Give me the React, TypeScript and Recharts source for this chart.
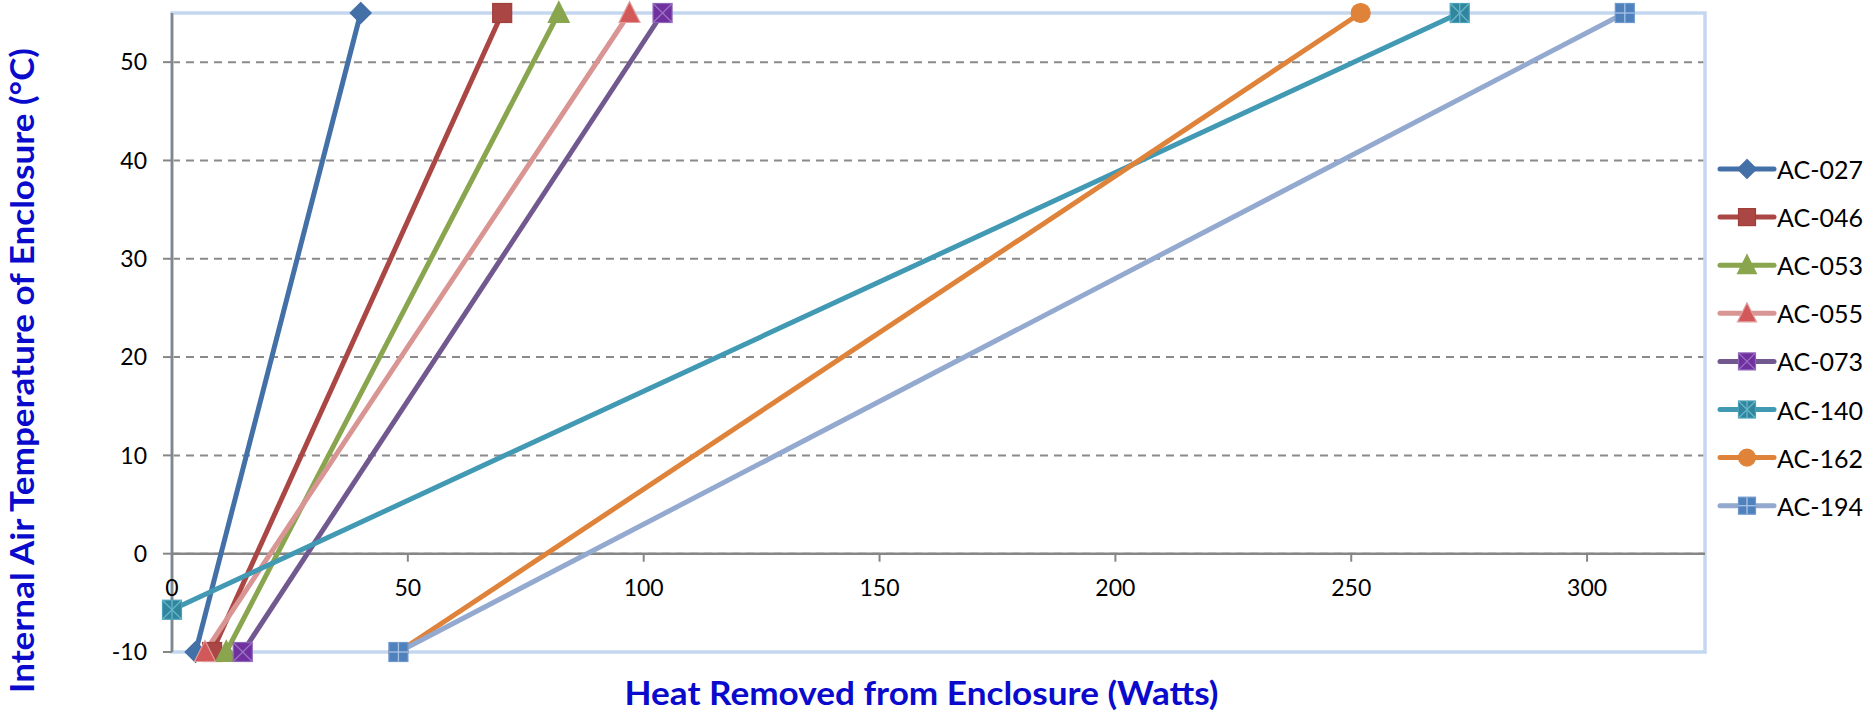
import React from "react";
import {
  LineChart,
  Line,
  XAxis,
  YAxis,
  CartesianGrid,
  ReferenceLine,
  ReferenceArea,
  ReferenceDot,
  Label,
} from "recharts";

// axis ticks
const X_TICKS = [0, 50, 100, 150, 200, 250, 300];
const Y_TICKS = [-10, 0, 10, 20, 30, 40, 50];
const X_DOMAIN = [0, 325];
const Y_DOMAIN = [-10, 55];

// each unit: heat removed (W) at -10 °C .. 55 °C
const AC027 = [{ x: 5, y: -10 }, { x: 40, y: 55 }];
const AC046 = [{ x: 8.5, y: -10 }, { x: 70, y: 55 }];
const AC053 = [{ x: 11.5, y: -10 }, { x: 82, y: 55 }];
const AC055 = [{ x: 7, y: -10 }, { x: 97, y: 55 }];
const AC073 = [{ x: 15, y: -10 }, { x: 104, y: 55 }];
const AC140 = [{ x: 0, y: -5.7 }, { x: 273, y: 55 }];
const AC162 = [{ x: 48, y: -10 }, { x: 252, y: 55 }];
const AC194 = [{ x: 48, y: -10 }, { x: 308, y: 55 }];

type Kind = "diamond" | "square" | "triangle" | "squareX" | "squareStar" | "circle" | "squarePlus";

interface SeriesDef {
  name: string;
  data: { x: number; y: number }[];
  line: string;
  fill: string;
  edge: string;
  mark: string;
  kind: Kind;
}

const SERIES: SeriesDef[] = [
  { name: "AC-027", data: AC027, line: "#4470A8", fill: "#4470A8", edge: "#4470A8", mark: "", kind: "diamond" },
  { name: "AC-046", data: AC046, line: "#AA4643", fill: "#AA4643", edge: "#A03E3B", mark: "", kind: "square" },
  { name: "AC-053", data: AC053, line: "#89A54E", fill: "#89A54E", edge: "#89A54E", mark: "", kind: "triangle" },
  { name: "AC-055", data: AC055, line: "#D89593", fill: "#D2585A", edge: "#E09E9C", mark: "", kind: "triangle" },
  { name: "AC-073", data: AC073, line: "#71588F", fill: "#7030A0", edge: "#8E66B8", mark: "#9A74C2", kind: "squareX" },
  { name: "AC-140", data: AC140, line: "#4199B3", fill: "#31859C", edge: "#4AA0B8", mark: "#66B6CB", kind: "squareStar" },
  { name: "AC-162", data: AC162, line: "#DF833A", fill: "#DF833A", edge: "#DF833A", mark: "", kind: "circle" },
  { name: "AC-194", data: AC194, line: "#93A9CF", fill: "#4F81BD", edge: "#6E98CC", mark: "#A9C3E6", kind: "squarePlus" },
];

const FONT = "Lato, 'Liberation Sans', sans-serif";
const TITLE_BLUE = "#0A0ACC";
const AXIS_GRAY = "#868686";
const BORDER_BLUE = "#C4D7EF";

function Marker({ kind, cx, cy, s, size }: { kind: Kind; cx: number; cy: number; s: SeriesDef; size: number }) {
  const h = size / 2;
  const common = { fill: s.fill, stroke: s.edge, strokeWidth: 1.2 };
  const box = <rect x={cx - h} y={cy - h} width={size} height={size} {...common} />;
  const lineProps = { stroke: s.mark, strokeWidth: 1.3 };
  switch (kind) {
    case "diamond":
      return <polygon points={`${cx},${cy - h - 1} ${cx + h + 1},${cy} ${cx},${cy + h + 1} ${cx - h - 1},${cy}`} {...common} />;
    case "triangle":
      return <polygon points={`${cx},${cy - h - 2} ${cx + h + 1},${cy + h} ${cx - h - 1},${cy + h}`} {...common} />;
    case "circle":
      return <circle cx={cx} cy={cy} r={h} {...common} />;
    case "squareX":
      return (
        <g>
          {box}
          <line x1={cx - h} y1={cy - h} x2={cx + h} y2={cy + h} {...lineProps} />
          <line x1={cx - h} y1={cy + h} x2={cx + h} y2={cy - h} {...lineProps} />
        </g>
      );
    case "squareStar":
      return (
        <g>
          {box}
          <line x1={cx - h} y1={cy - h} x2={cx + h} y2={cy + h} {...lineProps} />
          <line x1={cx - h} y1={cy + h} x2={cx + h} y2={cy - h} {...lineProps} />
          <line x1={cx} y1={cy - h} x2={cx} y2={cy + h} {...lineProps} />
        </g>
      );
    case "squarePlus":
      return (
        <g>
          {box}
          <line x1={cx} y1={cy - h} x2={cx} y2={cy + h} {...lineProps} />
          <line x1={cx - h} y1={cy} x2={cx + h} y2={cy} {...lineProps} />
        </g>
      );
    default:
      return box;
  }
}

function XTick({ cx, cy, value }: { cx: number; cy: number; value: number }) {
  return (
    <g>
      <line x1={cx} y1={cy} x2={cx} y2={cy + 8} stroke={AXIS_GRAY} strokeWidth={2} />
      <text x={cx} y={cy + 36} textAnchor="middle" dominantBaseline="middle" fontFamily={FONT} fontSize={23} fill="#000">
        {value}
      </text>
    </g>
  );
}

function ChartLegend() {
  return (
    <svg width={170} height={400} style={{ position: "absolute", left: 1704, top: 145 }}>
      {SERIES.map((s, i) => {
        const y = 24 + i * 48.1;
        return (
          <g key={s.name}>
            <line x1={16} x2={70} y1={y} y2={y} stroke={s.line} strokeWidth={5} strokeLinecap="round" />
            <Marker kind={s.kind} cx={43} cy={y} s={s} size={17} />
            <text x={73} y={y} dominantBaseline="central" fontFamily={FONT} fontSize={25} fill="#000">
              {s.name}
            </text>
          </g>
        );
      })}
    </svg>
  );
}

export default function App() {
  return (
    <div style={{ position: "absolute", left: 0, top: 0, width: 1874, height: 718, background: "#fff" }}>
      <LineChart width={1874} height={718} margin={{ top: 13, right: 169, bottom: 36, left: 112 }}>
        <CartesianGrid stroke="#8a8a8a" strokeWidth={2} strokeDasharray="8 6" />
        <ReferenceArea x1={0} x2={325} y1={-10} y2={55} fill="none" stroke={BORDER_BLUE} strokeWidth={3.5} />
        <XAxis
          type="number"
          dataKey="x"
          domain={X_DOMAIN}
          ticks={X_TICKS}
          tick={false}
          tickLine={false}
          axisLine={false}
          height={30}
        >
          <Label
            content={({ viewBox }: any) => (
              <text
                x={viewBox.x + viewBox.width / 2 - 17}
                y={viewBox.y + 45}
                textAnchor="middle"
                dominantBaseline="middle"
                fontFamily={FONT}
                fontWeight="bold"
                fontSize={33}
                fill={TITLE_BLUE}
                textLength={594}
                lengthAdjust="spacingAndGlyphs"
              >
                Heat Removed from Enclosure (Watts)
              </text>
            )}
          />
        </XAxis>
        <YAxis
          type="number"
          domain={Y_DOMAIN}
          ticks={Y_TICKS}
          width={60}
          tickSize={9}
          tickMargin={16}
          tickLine={{ stroke: AXIS_GRAY, strokeWidth: 2 }}
          axisLine={{ stroke: AXIS_GRAY, strokeWidth: 2.5 }}
          tick={{ fill: "#000", fontSize: 23, fontFamily: FONT }}
        >
          <Label
            content={({ viewBox }: any) => {
              const x = viewBox.x - 86;
              const y = viewBox.y + viewBox.height / 2 + 38;
              return (
                <text
                  x={x}
                  y={y}
                  transform={`rotate(-90 ${x} ${y})`}
                  textAnchor="middle"
                  dominantBaseline="middle"
                  fontFamily={FONT}
                  fontWeight="bold"
                  fontSize={33}
                  fill={TITLE_BLUE}
                  textLength={645}
                  lengthAdjust="spacingAndGlyphs"
                >
                  Internal Air Temperature of Enclosure (°C)
                </text>
              );
            }}
          />
        </YAxis>
        <ReferenceLine y={0} stroke={AXIS_GRAY} strokeWidth={2.5} />
        {X_TICKS.map((t) => (
          <ReferenceDot
            key={t}
            x={t}
            y={0}
            r={0}
            ifOverflow="visible"
            shape={(p: any) => <XTick cx={p.cx} cy={p.cy} value={t} />}
          />
        ))}
        {SERIES.map((s) => (
          <Line
            key={s.name}
            data={s.data}
            dataKey="y"
            name={s.name}
            type="linear"
            stroke={s.line}
            strokeWidth={5}
            isAnimationActive={false}
            activeDot={false}
            dot={(p: any) => (
              <Marker key={`${s.name}-${p.index}`} kind={s.kind} cx={p.cx} cy={p.cy} s={s} size={19} />
            )}
          />
        ))}
      </LineChart>
      <ChartLegend />
    </div>
  );
}
